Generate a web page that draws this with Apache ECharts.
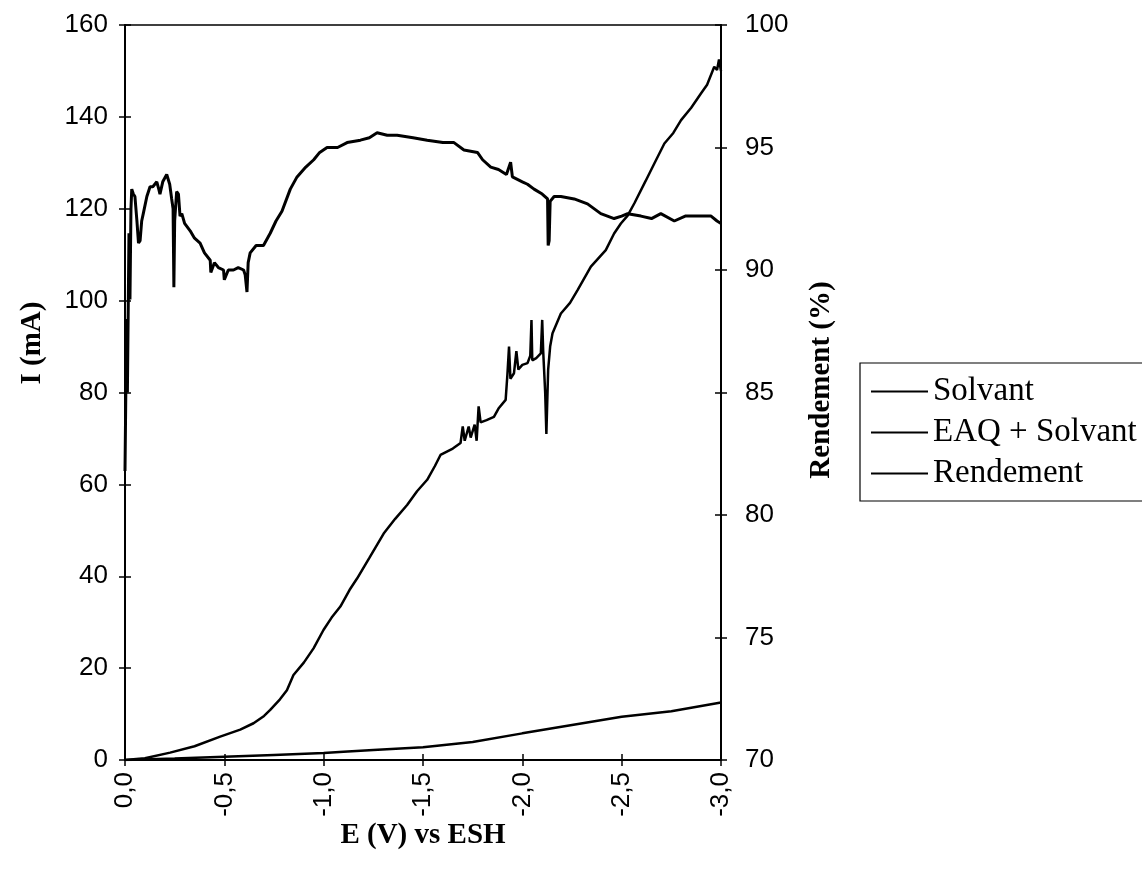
<!DOCTYPE html>
<html>
<head>
<meta charset="utf-8">
<script src="https://cdn.jsdelivr.net/npm/echarts@6/dist/echarts.min.js"></script>
<style>
html,body{margin:0;padding:0;background:#fff;}
#chart{width:1142px;height:874px;}
</style>
</head>
<body>
<div id="chart"></div>
<script>
// ---- data ----
var seriesNames = ['Solvant', 'EAQ + Solvant', 'Rendement'];

var solvantE = [0, -0.25, -0.5, -0.75, -1.0, -1.1, -1.25, -1.5, -1.75, -2.0, -2.25, -2.5, -2.75, -3.0];
var solvantI = [0, 0.3, 0.7, 1.1, 1.5, 1.8, 2.2, 2.8, 3.9, 5.8, 7.6, 9.4, 10.6, 12.5];

var eaqE = [0, -0.1, -0.227, -0.35, -0.479, -0.58, -0.647, -0.7, -0.731, -0.78, -0.815, -0.848, -0.9, -0.949, -0.999, -1.04, -1.084, -1.13, -1.168, -1.23, -1.302, -1.36, -1.42, -1.47, -1.521, -1.56, -1.588, -1.65, -1.689, -1.70, -1.71, -1.73, -1.74, -1.76, -1.77, -1.774, -1.78, -1.79, -1.82, -1.857, -1.88, -1.916, -1.925, -1.933, -1.94, -1.958, -1.97, -1.98, -2.0, -2.026, -2.04, -2.046, -2.05, -2.07, -2.093, -2.1, -2.105, -2.115, -2.121, -2.13, -2.14, -2.152, -2.194, -2.24, -2.278, -2.345, -2.42, -2.462, -2.496, -2.53, -2.564, -2.62, -2.665, -2.715, -2.76, -2.799, -2.85, -2.899, -2.93, -2.966, -2.98, -2.99, -3.0];
var eaqI = [0, 0.4, 1.6, 3.0, 5.1, 6.6, 8.0, 9.6, 10.9, 13.2, 15.2, 18.5, 21.2, 24.3, 28.3, 31, 33.4, 37, 39.5, 44, 49.3, 52.5, 55.5, 58.5, 61, 64, 66.4, 67.8, 69, 72.6, 69.5, 72.6, 70.2, 73, 69.5, 72.5, 77, 73.5, 74, 74.7, 76.5, 78.4, 84, 90, 83, 84.2, 89, 85, 86, 86.4, 88, 95.8, 87, 87.5, 88.5, 95.8, 89, 80, 71, 85, 90, 92.9, 97.2, 99.5, 102.3, 107.4, 111, 114.6, 116.8, 118.5, 121.2, 126, 129.9, 134.2, 136.5, 139.3, 142, 145.1, 147, 150.9, 150.2, 152.5, 150];

var rendE = [0, -0.008, -0.012, -0.02, -0.025, -0.03, -0.034, -0.042, -0.05, -0.06, -0.068, -0.076, -0.084, -0.092, -0.11, -0.126, -0.14, -0.16, -0.17, -0.176, -0.19, -0.21, -0.225, -0.235, -0.242, -0.246, -0.25, -0.26, -0.269, -0.277, -0.286, -0.3, -0.328, -0.35, -0.378, -0.4, -0.429, -0.432, -0.45, -0.47, -0.496, -0.5, -0.52, -0.546, -0.57, -0.597, -0.605, -0.614, -0.62, -0.63, -0.66, -0.697, -0.731, -0.76, -0.79, -0.832, -0.866, -0.91, -0.95, -0.98, -1.017, -1.07, -1.118, -1.185, -1.23, -1.269, -1.32, -1.37, -1.45, -1.521, -1.6, -1.656, -1.706, -1.774, -1.80, -1.841, -1.88, -1.92, -1.941, -1.95, -2.0, -2.026, -2.059, -2.1, -2.127, -2.13, -2.135, -2.14, -2.16, -2.194, -2.261, -2.328, -2.395, -2.462, -2.5, -2.53, -2.597, -2.65, -2.697, -2.765, -2.82, -2.866, -2.95, -2.98, -3.0];
var rendR = [81.8, 88, 85, 91.5, 88.8, 92.5, 93.3, 93.1, 93.0, 92, 91.1, 91.2, 92.0, 92.3, 93.0, 93.4, 93.4, 93.6, 93.3, 93.1, 93.6, 93.9, 93.5, 92.9, 92.5, 89.3, 92.0, 93.2, 93.1, 92.2, 92.3, 91.9, 91.6, 91.3, 91.1, 90.7, 90.4, 89.9, 90.3, 90.1, 90.0, 89.6, 90.0, 90.0, 90.1, 90.0, 89.8, 89.1, 90.3, 90.7, 91.0, 91.0, 91.5, 92.0, 92.4, 93.3, 93.8, 94.2, 94.5, 94.8, 95.0, 95.0, 95.2, 95.3, 95.4, 95.6, 95.5, 95.5, 95.4, 95.3, 95.2, 95.2, 94.9, 94.8, 94.5, 94.2, 94.1, 93.9, 94.4, 93.8, 93.6, 93.5, 93.3, 93.1, 92.9, 91.0, 91.2, 92.8, 93.0, 93.0, 92.9, 92.7, 92.3, 92.1, 92.2, 92.3, 92.2, 92.1, 92.3, 92.0, 92.2, 92.2, 92.2, 92.0, 91.9];

function zip(a, b) { return a.map(function (v, i) { return [v, b[i]]; }); }

var chart = echarts.init(document.getElementById('chart'), null, {renderer: 'canvas'});
var black = '#000';
var sans = 'Liberation Sans';
var serif = 'Liberation Serif';

function fmtE(v) { return (Math.round(v * 10) / 10).toFixed(1).replace('.', ','); }

var gridRect = {left: 125, right: 421, top: 25, bottom: 114};
var tickStyle = {color: black, width: 1.5};

var option = {
  backgroundColor: '#fff',
  animation: false,
  grid: [
    Object.assign({show: true, borderColor: black, borderWidth: 1.5, backgroundColor: 'transparent'}, gridRect),
    Object.assign({show: false}, gridRect)
  ],
  legend: {
    data: seriesNames,
    orient: 'vertical',
    left: 860, top: 363,
    padding: [12, 60, 11, 10],
    itemGap: 8,
    itemWidth: 57, itemHeight: 14,
    itemStyle: {opacity: 0},
    lineStyle: {width: 2},
    borderColor: black, borderWidth: 1.2,
    textStyle: {fontFamily: serif, fontSize: 33, color: black, lineHeight: 33}
  },
  xAxis: [
    {
      gridIndex: 0, type: 'value', min: -3, max: 0, interval: 0.5, inverse: true, position: 'bottom',
      axisLine: {show: true, lineStyle: {color: black, width: 2}},
      axisTick: {show: true, inside: false, length: 6, lineStyle: tickStyle},
      splitLine: {show: false},
      axisLabel: {rotate: 90, margin: 12, fontFamily: sans, fontSize: 26, color: black, formatter: fmtE},
      name: 'E (V) vs ESH', nameLocation: 'middle', nameGap: 61, nameMoveOverlap: false,
      nameTextStyle: {fontFamily: serif, fontWeight: 'bold', fontSize: 29, color: black}
    },
    {
      gridIndex: 1, type: 'value', min: -3, max: 0, interval: 0.5, inverse: true, position: 'bottom',
      axisLine: {show: false},
      axisTick: {show: true, inside: true, length: 6, lineStyle: tickStyle},
      splitLine: {show: false}, axisLabel: {show: false}
    }
  ],
  yAxis: [
    {
      gridIndex: 0, type: 'value', min: 0, max: 160, interval: 20, position: 'left',
      axisLine: {show: true, lineStyle: {color: black, width: 2}},
      axisTick: {show: true, inside: false, length: 6, lineStyle: tickStyle},
      splitLine: {show: false},
      axisLabel: {margin: 17, fontFamily: sans, fontSize: 26, color: black}
    },
    {
      gridIndex: 0, type: 'value', min: 70, max: 100, interval: 5, position: 'right',
      axisLine: {show: true, lineStyle: {color: black, width: 2}},
      axisTick: {show: true, inside: false, length: 6, lineStyle: tickStyle},
      splitLine: {show: false},
      axisLabel: {margin: 24, fontFamily: sans, fontSize: 26, color: black}
    },
    {
      gridIndex: 1, type: 'value', min: 0, max: 160, interval: 20, position: 'left',
      axisLine: {show: false},
      axisTick: {show: true, inside: true, length: 6, lineStyle: tickStyle},
      splitLine: {show: false}, axisLabel: {show: false}
    },
    {
      gridIndex: 1, type: 'value', min: 70, max: 100, interval: 5, position: 'right',
      axisLine: {show: false},
      axisTick: {show: true, inside: true, length: 6, lineStyle: tickStyle},
      splitLine: {show: false}, axisLabel: {show: false}
    }
  ],
  graphic: [
    {type: 'text', x: 33, y: 343, rotation: Math.PI / 2,
     style: {text: 'I (mA)', fontFamily: serif, fontWeight: 'bold', fontSize: 29, fill: black, align: 'center', verticalAlign: 'middle'}},
    {type: 'text', x: 822, y: 380, rotation: Math.PI / 2,
     style: {text: 'Rendement (%)', fontFamily: serif, fontWeight: 'bold', fontSize: 29, fill: black, align: 'center', verticalAlign: 'middle'}}
  ],
  series: [
    {name: seriesNames[0], type: 'line', xAxisIndex: 0, yAxisIndex: 0, symbol: 'none', data: zip(solvantE, solvantI),
     lineStyle: {color: black, width: 2.5}, itemStyle: {color: black}},
    {name: seriesNames[1], type: 'line', xAxisIndex: 0, yAxisIndex: 0, symbol: 'none', data: zip(eaqE, eaqI),
     lineStyle: {color: black, width: 2.5}, itemStyle: {color: black}},
    {name: seriesNames[2], type: 'line', xAxisIndex: 0, yAxisIndex: 1, symbol: 'none', data: zip(rendE, rendR),
     lineStyle: {color: black, width: 3}, itemStyle: {color: black}}
  ]
};
chart.setOption(option);
</script>
</body>
</html>
